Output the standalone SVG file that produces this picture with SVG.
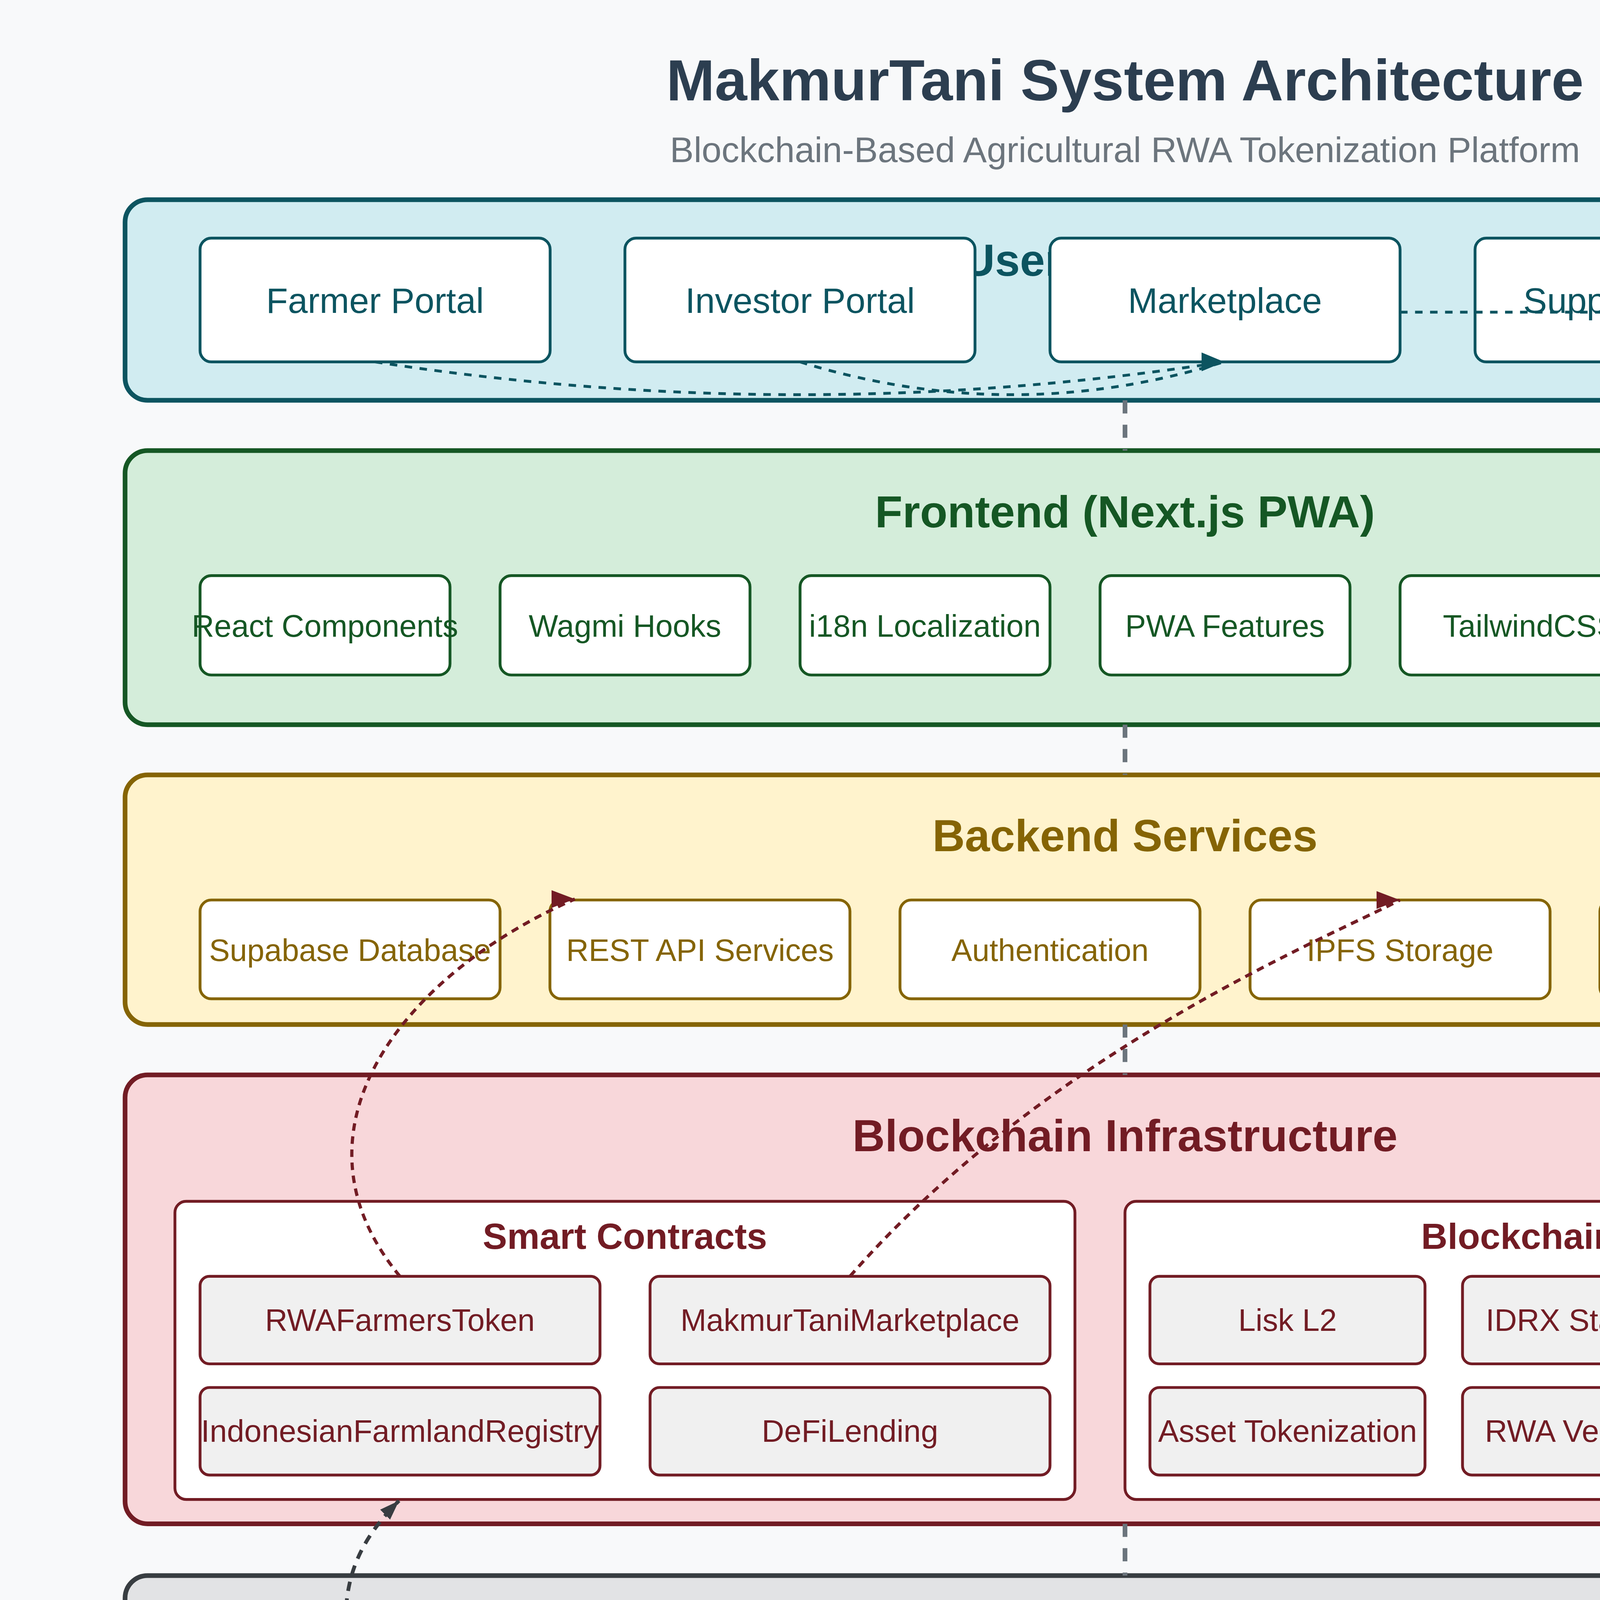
<svg xmlns="http://www.w3.org/2000/svg" width="5760" height="4800" viewBox="0 0 5760 4800">
<defs>
<style>
text{font-family:"Liberation Sans",Arial,Helvetica,sans-serif}
.ttl{font-size:31px;font-weight:bold;fill:#2c3e50;text-anchor:middle}
.sub{font-size:19px;fill:#6c757d;text-anchor:middle}
.lt{font-size:24px;font-weight:bold;text-anchor:middle}
.st{font-size:19.5px;font-weight:bold;text-anchor:middle;fill:#721c24}
.nt{font-size:16.6px;text-anchor:middle}
.ut{font-size:19px;text-anchor:middle;fill:#0c5460}
.lg{font-size:15px;font-weight:bold}
.layer{stroke-width:2.5}
.node{stroke-width:1.5}
.u{fill:#d1ecf1;stroke:#0c5460}
.f{fill:#d4edda;stroke:#155724}
.b{fill:#fff3cd;stroke:#856404}
.c{fill:#f8d7da;stroke:#721c24}
.i{fill:#e2e3e5;stroke:#383d41}
.un{fill:#fff;stroke:#0c5460}
.fn{fill:#fff;stroke:#155724}
.bn{fill:#fff;stroke:#856404}
.cn{fill:#f0f0f0;stroke:#721c24}
.cb{fill:#fff;stroke:#721c24;stroke-width:1.5}
.in{fill:#fff;stroke:#383d41}
.tu{fill:#0c5460}.tf{fill:#155724}.tb{fill:#856404}.tc{fill:#721c24}.ti{fill:#383d41}
.cu{fill:none;stroke:#0c5460;stroke-width:1.5;stroke-dasharray:4 4}
.cr{fill:none;stroke:#721c24;stroke-width:1.7;stroke-dasharray:4 3}
.cg{fill:none;stroke:#383d41;stroke-width:2;stroke-dasharray:5 4}
.cx{fill:none;stroke:#4682b4;stroke-width:2.2;stroke-dasharray:7 5}
.cv{fill:none;stroke:#6c757d;stroke-width:2.5;stroke-dasharray:7 6}
</style>
<marker id="aTeal" viewBox="0 0 10 10" refX="10" refY="5" markerWidth="12" markerHeight="10" markerUnits="userSpaceOnUse" preserveAspectRatio="none"><path d="M0,0 L10,5 L0,10 Z" fill="#0c5460"/></marker>
<marker id="aRed" viewBox="0 0 10 10" refX="10" refY="5" markerWidth="12.5" markerHeight="9.5" markerUnits="userSpaceOnUse" preserveAspectRatio="none"><path d="M0,0 L10,5 L0,10 Z" fill="#721c24"/></marker>
<marker id="aGray" viewBox="0 0 10 10" refX="10" refY="5" markerWidth="10.5" markerHeight="7.5" markerUnits="userSpaceOnUse" preserveAspectRatio="none" orient="auto"><path d="M0,0 L10,5 L0,10 Z" fill="#383d41"/></marker>
</defs>
<rect x="0" y="0" width="5760" height="4800" fill="#f8f9fa"/>
<g transform="scale(4.8)">
<g id="header">
<text class="ttl" x="600" y="53.5">MakmurTani System Architecture</text>
<text class="sub" x="600" y="86.5">Blockchain-Based Agricultural RWA Tokenization Platform</text>
</g>
<g id="legend">
<rect x="866" y="26" width="307.5" height="49" rx="24.5" fill="#fff" stroke="#6c757d" stroke-width="1"/>
<circle cx="880" cy="50.6" r="8" fill="#0c5460"/>
<text class="lg tu" x="888" y="56">User</text>
<circle cx="933.2" cy="50.6" r="8" fill="#155724"/>
<text class="lg tf" x="953" y="56">App</text>
<circle cx="999.7" cy="50.6" r="8" fill="#856404"/>
<text class="lg tb" x="1008" y="56">Backend</text>
<circle cx="1082.7" cy="50.6" r="8" fill="#721c24"/>
<text class="lg tc" x="1090.8" y="56">Blockchain</text>
</g>

<g id="layer-user">
<rect class="layer u" x="66.7" y="106.5" width="1066.7" height="107" rx="12"/>
<text class="lt tu" x="600" y="147">User Interfaces</text>
</g>
<g id="node-farmer-portal"><rect class="node un" x="106.7" y="127" width="186.7" height="66" rx="6"/><text class="ut" x="200" y="166.8">Farmer Portal</text></g>
<g id="node-investor-portal"><rect class="node un" x="333.3" y="127" width="186.7" height="66" rx="6"/><text class="ut" x="426.7" y="166.8">Investor Portal</text></g>
<g id="node-marketplace"><rect class="node un" x="560" y="127" width="186.7" height="66" rx="6"/><text class="ut" x="653.3" y="166.8">Marketplace</text></g>
<g id="node-supply-tracking"><rect class="node un" x="786.7" y="127" width="186.7" height="66" rx="6"/><text class="ut" x="880" y="166.8">Supply Tracking</text></g>

<g id="layer-frontend">
<rect class="layer f" x="66.7" y="240.3" width="1066.7" height="146.2" rx="12"/>
<text class="lt tf" x="600" y="281.3">Frontend (Next.js PWA)</text>
</g>
<g id="node-react"><rect class="node fn" x="106.7" y="307" width="133.3" height="53" rx="6"/><text class="nt tf" x="173.3" y="339.6">React Components</text></g>
<g id="node-wagmi"><rect class="node fn" x="266.7" y="307" width="133.3" height="53" rx="6"/><text class="nt tf" x="333.3" y="339.6">Wagmi Hooks</text></g>
<g id="node-i18n"><rect class="node fn" x="426.7" y="307" width="133.3" height="53" rx="6"/><text class="nt tf" x="493.3" y="339.6">i18n Localization</text></g>
<g id="node-pwa"><rect class="node fn" x="586.7" y="307" width="133.3" height="53" rx="6"/><text class="nt tf" x="653.3" y="339.6">PWA Features</text></g>
<g id="node-tailwind"><rect class="node fn" x="746.7" y="307" width="160" height="53" rx="6"/><text class="nt tf" x="826.7" y="339.6">TailwindCSS UI</text></g>
<g id="node-bilingual"><rect class="node fn" x="933.3" y="307" width="160" height="53" rx="6"/><text class="nt tf" x="1013.3" y="339.6">Bilingual Support</text></g>

<g id="layer-backend">
<rect class="layer b" x="66.7" y="413.3" width="1066.7" height="133.1" rx="12"/>
<text class="lt tb" x="600" y="454">Backend Services</text>
</g>
<g id="node-supabase"><rect class="node bn" x="106.7" y="480" width="160" height="52.7" rx="6"/><text class="nt tb" x="186.7" y="512.6">Supabase Database</text></g>
<g id="node-rest"><rect class="node bn" x="293.3" y="480" width="160" height="52.7" rx="6"/><text class="nt tb" x="373.3" y="512.6">REST API Services</text></g>
<g id="node-auth"><rect class="node bn" x="480" y="480" width="160" height="52.7" rx="6"/><text class="nt tb" x="560" y="512.6">Authentication</text></g>
<g id="node-ipfs"><rect class="node bn" x="666.7" y="480" width="160" height="52.7" rx="6"/><text class="nt tb" x="746.7" y="512.6">IPFS Storage</text></g>
<g id="node-supply-chain"><rect class="node bn" x="853.3" y="480" width="186.7" height="52.7" rx="6"/><text class="nt tb" x="946.7" y="512.6">Supply Chain Tracking</text></g>

<g id="layer-blockchain">
<rect class="layer c" x="66.7" y="573.3" width="1066.7" height="239.4" rx="12"/>
<text class="lt tc" x="600" y="614">Blockchain Infrastructure</text>
</g>
<g id="group-smart-contracts">
<rect class="cb" x="93.3" y="640.7" width="480" height="159" rx="6"/>
<text class="st" x="333.3" y="666">Smart Contracts</text>
</g>
<g id="node-rwa-token"><rect class="node cn" x="106.7" y="680.7" width="213.3" height="46.7" rx="5"/><text class="nt tc" x="213.3" y="709.7">RWAFarmersToken</text></g>
<g id="node-marketplace-contract"><rect class="node cn" x="346.7" y="680.7" width="213.3" height="46.7" rx="5"/><text class="nt tc" x="453.3" y="709.7">MakmurTaniMarketplace</text></g>
<g id="node-registry"><rect class="node cn" x="106.7" y="740" width="213.3" height="46.7" rx="5"/><text class="nt tc" x="213.3" y="769">IndonesianFarmlandRegistry</text></g>
<g id="node-defi"><rect class="node cn" x="346.7" y="740" width="213.3" height="46.7" rx="5"/><text class="nt tc" x="453.3" y="769">DeFiLending</text></g>
<g id="group-blockchain-features">
<rect class="cb" x="600" y="640.7" width="506.7" height="159" rx="6"/>
<text class="st" x="853.3" y="666">Blockchain Features</text>
</g>
<g id="node-lisk"><rect class="node cn" x="613.3" y="680.7" width="146.7" height="46.7" rx="5"/><text class="nt tc" x="686.7" y="709.7">Lisk L2</text></g>
<g id="node-idrx"><rect class="node cn" x="780" y="680.7" width="146.7" height="46.7" rx="5"/><text class="nt tc" x="853.3" y="709.7">IDRX Stablecoin</text></g>
<g id="node-chainlink"><rect class="node cn" x="946.7" y="680.7" width="146.7" height="46.7" rx="5"/><text class="nt tc" x="1020" y="709.7">Chainlink Oracles</text></g>
<g id="node-tokenization"><rect class="node cn" x="613.3" y="740" width="146.7" height="46.7" rx="5"/><text class="nt tc" x="686.7" y="769">Asset Tokenization</text></g>
<g id="node-rwa-verification"><rect class="node cn" x="780" y="740" width="146.7" height="46.7" rx="5"/><text class="nt tc" x="853.3" y="769">RWA Verification</text></g>
<g id="node-records"><rect class="node cn" x="946.7" y="740" width="146.7" height="46.7" rx="5"/><text class="nt tc" x="1020" y="769">Transparent Records</text></g>

<g id="layer-iot">
<rect class="layer i" x="66.7" y="840.3" width="1066.7" height="133.2" rx="12"/>
<text class="lt ti" x="600" y="873">IoT &amp; Real-World Integration</text>
</g>
<g id="node-sensors"><rect class="node in" x="93.3" y="893.3" width="186.7" height="60.3" rx="6"/><text class="nt ti" x="186.7" y="930.3">Soil &amp; Weather Sensors</text></g>
<g id="node-rfid"><rect class="node in" x="306.7" y="893.3" width="186.7" height="60.3" rx="6"/><text class="nt ti" x="400" y="930.3">RFID/QR Tracking</text></g>
<g id="node-gps"><rect class="node in" x="520" y="893.3" width="186.7" height="60.3" rx="6"/><text class="nt ti" x="613.3" y="930.3">GPS Land Mapping</text></g>
<g id="node-regulatory"><rect class="node in" x="733.3" y="893.3" width="186.7" height="60.3" rx="6"/><text class="nt ti" x="826.7" y="930.3">Regulatory Compliance</text></g>
<g id="node-kyc"><rect class="node in" x="946.7" y="893.3" width="160" height="60.3" rx="6"/><text class="nt ti" x="1026.7" y="930.3">KYC/AML</text></g>

<g id="node-xellar">
<rect x="1000" y="400" width="186.7" height="66.7" rx="6" fill="#fff" stroke="#4682b4" stroke-width="2.5"/>
<text x="1093.3" y="439.6" font-size="19" font-weight="bold" fill="#4682b4" text-anchor="middle">Xellar Wallet</text>
</g>

<g id="connectors">
<path class="cv" d="M600,213.5 V240.3"/>
<path class="cv" d="M600,386.5 V413.3"/>
<path class="cv" d="M600,546.4 V573.3"/>
<path class="cv" d="M600,812.7 V840.3"/>
<path class="cu" d="M200,193 Q426.4,228 652.8,193" marker-end="url(#aTeal)"/>
<path class="cu" d="M426.6,193 Q539.7,228 652.8,193" marker-end="url(#aTeal)"/>
<path class="cu" d="M746.7,166.5 L879.7,166.5" marker-end="url(#aTeal)"/>
<path class="cr" d="M213.3,680.7 C149,603 215,519.5 306.6,479.5" marker-end="url(#aRed)"/>
<path class="cr" d="M453.3,680.7 C560,559 711,499 746.6,480" marker-end="url(#aRed)"/>
<path class="cg" d="M186.7,893.3 C180.8,853.4 184.5,828.7 212.8,800.4" marker-end="url(#aGray)"/>
<path class="cg" d="M826.7,893.3 Q866.3,875.8 932.9,800.1" marker-end="url(#aGray)"/>
<path class="cx" d="M933.3,333.3 L1000,433.3"/>
<path class="cx" d="M1093.3,466.7 L1093.3,633"/>
</g>
</g>
</svg>
